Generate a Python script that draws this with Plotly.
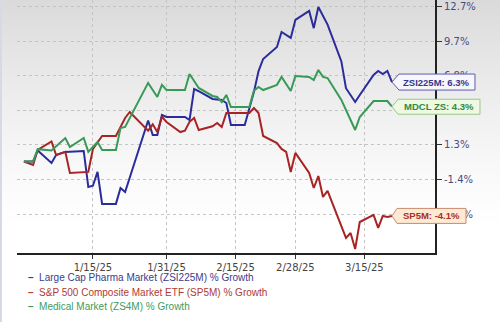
import math
from datetime import datetime
import plotly.graph_objects as go

# ---- cumulative % growth since 12/31/24 ----
pharma_dates = [
    "2024-12-31", "2025-01-02", "2025-01-03", "2025-01-06", "2025-01-07", "2025-01-09",
    "2025-01-13", "2025-01-14", "2025-01-15", "2025-01-16", "2025-01-17", "2025-01-20",
    "2025-01-21", "2025-01-22", "2025-01-27", "2025-01-28", "2025-01-29", "2025-01-30",
    "2025-01-31", "2025-02-04", "2025-02-05", "2025-02-06", "2025-02-07", "2025-02-10",
    "2025-02-12", "2025-02-13", "2025-02-14", "2025-02-17", "2025-02-19", "2025-02-20",
    "2025-02-21", "2025-02-24", "2025-02-25", "2025-02-27", "2025-02-28", "2025-03-03",
    "2025-03-04", "2025-03-05", "2025-03-07", "2025-03-10", "2025-03-11", "2025-03-13",
    "2025-03-14", "2025-03-17", "2025-03-18", "2025-03-19", "2025-03-20", "2025-03-21",
]
pharma_growth = [
    0.0, 0.0, 0.85, -0.11, 0.50, 0.74,
    0.81, -1.94, -1.85, -0.80, -3.21, -3.21,
    -2.02, -2.32, 3.20, 2.06, 2.06, 3.64,
    3.48, 3.48, 3.24, 5.74, 5.55, 4.93,
    4.85, 4.60, 2.85, 2.85, 5.50, 7.20,
    8.20, 9.21, 10.47, 9.97, 11.50, 12.28,
    10.80, 12.62, 11.10, 8.00, 5.80, 4.68,
    5.25, 6.88, 7.21, 6.96, 7.21, 6.30,
]

sp500_dates = [
    "2024-12-31", "2025-01-02", "2025-01-03", "2025-01-06", "2025-01-07", "2025-01-09",
    "2025-01-10", "2025-01-14", "2025-01-15", "2025-01-16", "2025-01-17", "2025-01-20",
    "2025-01-22", "2025-01-23", "2025-01-27", "2025-01-28", "2025-01-29", "2025-01-30",
    "2025-01-31", "2025-02-03", "2025-02-04", "2025-02-05", "2025-02-06", "2025-02-07",
    "2025-02-10", "2025-02-11", "2025-02-12", "2025-02-13", "2025-02-18", "2025-02-19",
    "2025-02-20", "2025-02-21", "2025-02-24", "2025-02-25", "2025-02-26", "2025-02-27",
    "2025-02-28", "2025-03-03", "2025-03-04", "2025-03-05", "2025-03-06", "2025-03-07",
    "2025-03-11", "2025-03-12", "2025-03-13", "2025-03-14", "2025-03-17", "2025-03-18",
    "2025-03-19", "2025-03-20", "2025-03-21",
]
sp500_growth = [
    0.0, -0.27, 0.90, 1.55, 0.50, 0.74,
    -0.88, -0.80, 0.97, 1.45, 1.98, 1.98,
    3.40, 3.88, 2.40, 2.90, 2.30, 3.50,
    3.08, 2.29, 2.40, 3.10, 3.40, 2.45,
    2.75, 3.00, 2.69, 3.80, 3.80, 4.20,
    3.80, 1.98, 1.43, 0.97, 0.74, -0.80,
    0.66, -0.88, -2.02, -1.11, -2.69, -2.24,
    -5.71, -5.35, -6.51, -4.55, -4.03, -4.98,
    -4.10, -4.18, -4.10,
]

medical_dates = [
    "2024-12-31", "2025-01-02", "2025-01-03", "2025-01-06", "2025-01-09", "2025-01-10",
    "2025-01-13", "2025-01-14", "2025-01-16", "2025-01-17", "2025-01-20", "2025-01-21",
    "2025-01-22", "2025-01-27", "2025-01-29", "2025-01-30", "2025-01-31", "2025-02-04",
    "2025-02-05", "2025-02-07", "2025-02-10", "2025-02-11", "2025-02-12", "2025-02-13",
    "2025-02-14", "2025-02-18", "2025-02-19", "2025-02-20", "2025-02-21", "2025-02-24",
    "2025-02-25", "2025-02-27", "2025-02-28", "2025-03-03", "2025-03-04", "2025-03-05",
    "2025-03-06", "2025-03-07", "2025-03-10", "2025-03-12", "2025-03-13", "2025-03-14",
    "2025-03-17", "2025-03-20", "2025-03-21",
]
medical_growth = [
    0.0, 0.0, 0.95, 0.85, 1.82, 1.12,
    1.82, 0.74, 1.51, 0.89, 0.89, 2.61,
    2.69, 6.23, 5.09, 6.07, 5.65, 5.65,
    6.96, 5.82, 5.17, 5.09, 4.68, 5.25,
    4.28, 4.28, 5.60, 5.90, 5.65, 6.07,
    6.72, 5.57, 6.80, 6.72, 6.47, 7.29,
    6.72, 6.63, 4.85, 3.24, 2.45, 3.48,
    4.76, 4.76, 4.30,
]

series_names = [
    "Large Cap Pharma Market (ZSI225M) % Growth",
    "S&P 500 Composite Market ETF (SP5M) % Growth",
    "Medical Market (ZS4M) % Growth",
]
tag_labels = ["ZSI225M", "SP5M", "MDCL ZS"]

x_tick_dates = ["2025-01-15", "2025-01-31", "2025-02-15", "2025-02-28", "2025-03-15"]
x_tick_labels = ["1/15/25", "1/31/25", "2/15/25", "2/28/25", "3/15/25"]
y_tick_pcts = [12.7, 9.7, 6.8, 4.0, 1.3, -1.4, -4.0]

# ---- styling ----
W, H = 500, 322
ML, MR, MT, MB = 17, 65, 0, 69
PW, PH = W - ML - MR, H - MT - MB

line_colors = ["#2b2b9c", "#a82424", "#379a57"]
text_colors = ["#3b3b8c", "#b03a34", "#449a5a"]
tag_fill = ["#f6f6fc", "#fde9d4", "#eef8e3"]
tag_border = ["#5d5da8", "#c98b6c", "#93c987"]
tag_text = ["#36368a", "#a8301f", "#2e8a46"]
# tag geometry (tip at the series end, body offsets in px)
tag_body = [(7, 83, 8.0), (5, 74, 7.5), (6, 88, 7.5)]

X_RANGE = ["2024-12-29 12:00", "2025-03-30 08:24"]
Y_RANGE = [-0.03057, 0.05394]  # log10 of growth factor


def px_x(p):
    return (p - ML) / PW


def px_y(p):
    return (MT + PH - p) / PH


def date_to_paper(s):
    d0 = datetime.fromisoformat(X_RANGE[0])
    d1 = datetime.fromisoformat(X_RANGE[1])
    d = datetime.fromisoformat(s)
    return (d - d0).total_seconds() / (d1 - d0).total_seconds()


def factor(pcts):
    return [1 + v / 100.0 for v in pcts]


fig = go.Figure()

all_series = [
    (pharma_dates, pharma_growth),
    (sp500_dates, sp500_growth),
    (medical_dates, medical_growth),
]
for (dates, vals), name, col in zip(all_series, series_names, line_colors):
    fig.add_trace(go.Scatter(
        x=dates, y=factor(vals), mode="lines", name=name,
        line=dict(color=col, width=2), showlegend=False,
        hoverinfo="skip",
    ))

shapes = []
# soft grey-to-white background
band = 2
for top in range(0, 232, band):
    t = min(1.0, (top + band / 2) / 230.0)
    c = int(round(255 - 37 * (1 - t) ** 1.3))
    shapes.append(dict(
        type="rect", xref="paper", yref="paper", layer="below",
        x0=px_x(0), x1=px_x(W), y0=px_y(top + band), y1=px_y(top),
        fillcolor=f"rgb({c},{c},{c + 1})", line=dict(width=0),
    ))
shapes.append(dict(
    type="line", xref="paper", yref="paper", layer="below",
    x0=px_x(1), x1=px_x(1), y0=px_y(H), y1=px_y(0),
    line=dict(color="#d6dae2", width=2),
))

annotations = []
# end-of-series value tags
for i, (dates, vals) in enumerate(all_series):
    left, right, hh = tag_body[i]
    xa = date_to_paper(dates[-1])
    shapes.append(dict(
        type="path", xref="paper", yref="y",
        xsizemode="pixel", ysizemode="pixel",
        xanchor=xa, yanchor=1 + vals[-1] / 100.0,
        path=f"M0,0 L{left},{hh} L{right},{hh} L{right},{-hh} L{left},{-hh} Z",
        fillcolor=tag_fill[i], line=dict(color=tag_border[i], width=1),
        layer="above",
    ))
    annotations.append(dict(
        xref="paper", yref="y", x=xa, y=math.log10(1 + vals[-1] / 100.0),
        xshift=(left + right) / 2, xanchor="center", yanchor="middle",
        text=f"<b>{tag_labels[i]}: {vals[-1]:.1f}%</b>", showarrow=False,
        font=dict(family="Liberation Sans, Arial", size=9.5, color=tag_text[i]),
    ))

# legend rows
legend_y = [277, 292, 306]
for name, col, ty in zip(series_names, text_colors, legend_y):
    annotations.append(dict(
        xref="paper", yref="paper", x=px_x(26), y=px_y(ty),
        xanchor="left", yanchor="middle", showarrow=False,
        text=f"<b>–</b>  {name}",
        font=dict(family="Liberation Sans, Arial", size=10, color=col),
    ))

fig.update_layout(
    template="none",
    width=W, height=H,
    margin=dict(l=ML, r=MR, t=MT, b=MB, pad=0),
    paper_bgcolor="white",
    plot_bgcolor="rgba(0,0,0,0)",
    showlegend=False,
    shapes=shapes,
    annotations=annotations,
    xaxis=dict(
        type="date", range=X_RANGE, automargin=False,
        tickvals=x_tick_dates, ticktext=x_tick_labels,
        tickfont=dict(family="DejaVu Sans", size=10, color="#444444"),
        showline=True, linecolor="#222222", linewidth=2,
        ticks="outside", ticklen=4, tickcolor="#333333", tickwidth=1,
        showgrid=True, gridcolor="#c4c4c4", griddash="dot", gridwidth=1,
        zeroline=False,
    ),
    yaxis=dict(
        type="log", range=Y_RANGE, side="right", automargin=False,
        tickvals=[1 + v / 100.0 for v in y_tick_pcts],
        ticktext=[f"{v:.1f}%" for v in y_tick_pcts],
        tickfont=dict(family="DejaVu Sans", size=10, color="#4a4a82"),
        showline=True, linecolor="#222222", linewidth=2,
        ticks="outside", ticklen=5, tickcolor="#333333", tickwidth=1,
        showgrid=True, gridcolor="#c4c4c4", griddash="dot", gridwidth=1,
        zeroline=False,
    ),
)

fig.write_html("out.html")
